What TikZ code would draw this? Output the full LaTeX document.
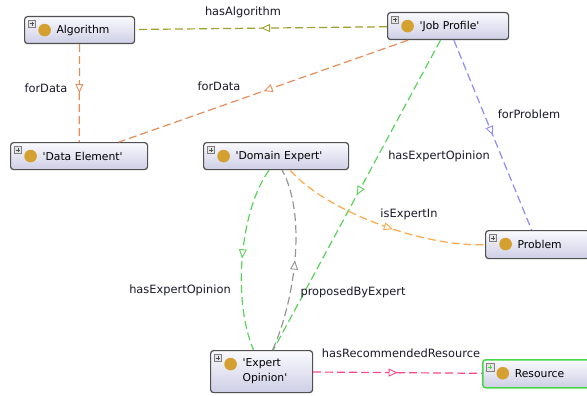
\documentclass[tikz,border=0pt]{standalone}
\usepackage{fontspec}
\setmainfont{DejaVu Sans}[Ligatures=TeXOff]
\usetikzlibrary{arrows.meta,decorations.markings}

% class boxes
\definecolor{boxtop}{RGB}{250,250,254}
\definecolor{boxbot}{RGB}{206,206,230}
\definecolor{boxline}{RGB}{80,80,80}
\definecolor{dotgold}{RGB}{212,160,48}
\definecolor{selgreen}{RGB}{70,215,70}
% one colour per property
\definecolor{algocol}{RGB}{160,160,45}
\definecolor{datacol}{RGB}{232,140,90}
\definecolor{probcol}{RGB}{140,140,250}
\definecolor{opincol}{RGB}{90,210,90}
\definecolor{expcol}{RGB}{255,168,70}
\definecolor{propcol}{RGB}{150,150,150}
\definecolor{rescol}{RGB}{250,70,140}
\definecolor{labcol}{RGB}{25,25,40}

\newcommand{\gap}{\hspace*{32pt}}

\tikzset{
  cls/.style={draw=boxline, line width=1.2pt, rounded corners=3pt,
    top color=boxtop, bottom color=boxbot, anchor=north west,
    inner xsep=0pt, inner ysep=0pt, minimum height=27pt,
    text width=#1, align=left, font=\fontsize{10.8}{15}\selectfont,
    path picture={
      \coordinate (nw) at (path picture bounding box.north west);
      \draw[line width=.5pt, draw=gray, fill=gray!20, sharp corners]
        ([shift={(3.5pt,-3.5pt)}]nw) rectangle ([shift={(11pt,-11pt)}]nw);
      \draw[line width=.7pt, sharp corners]
        ([shift={(5pt,-7.25pt)}]nw) -- ([shift={(9.5pt,-7.25pt)}]nw)
        ([shift={(7.25pt,-5pt)}]nw) -- ([shift={(7.25pt,-9.5pt)}]nw);
      \fill[dotgold] ([shift={(20pt,-13.5pt)}]nw) circle (6.3pt);
    }},
  rel/.style={draw=#1, line width=1.2pt, dash pattern=on 8pt off 4pt,
    postaction={decorate},
    decoration={markings, mark=at position \tippos with
      {\arrow{Triangle[open, fill=white, length=9pt, width=8pt, line width=.9pt]}}}},
  tip at/.code={\def\tippos{#1}},
  tip at=0.5,
  lbl/.style={font=\fontsize{11.4}{13}\selectfont, text=labcol, inner sep=0pt},
}

\begin{document}
\begin{tikzpicture}[x=1pt, y=-1pt]
  \useasboundingbox (0,0) rectangle (587,396);
  \clip (0,0) rectangle (587,396);

  % classes
  \node[cls=110pt] (alg) at (24,16) {\gap Algorithm};
  \node[cls=121pt] (jp) at (387,12) {\gap 'Job Profile'};
  \node[cls=137pt] (de) at (10,142) {\gap 'Data Element'};
  \node[cls=145pt] (dx) at (203,142) {\gap 'Domain Expert'};
  \node[cls=104pt, minimum height=28pt] (pb) at (485,230) {\gap Problem};
  \node[cls=102pt, minimum height=42pt] (eo) at (210,350) {\gap 'Expert\\\gap Opinion'};
  \node[cls=108pt, minimum height=28pt, draw=selgreen, line width=1.5pt] (rs) at (482,359) {\gap Resource};

  % properties
  \draw[rel=algocol] (jp) -- (alg);
  \draw[rel=datacol] (alg) -- (de);
  \draw[rel=datacol] (jp) -- (de);
  \draw[rel=probcol] (jp) -- (pb);
  \draw[rel=opincol] (jp) -- (eo);
  \draw[tip at=0.56, rel=expcol] ([xshift=14pt]dx.south) .. controls (325,210) and (420,247) .. (pb.west);
  \draw[rel=opincol] ([xshift=-7pt]dx.south) .. controls (240,210) and (232,300) .. ([xshift=-8pt]eo.north);
  \draw[rel=propcol] ([xshift=11pt]eo.north) .. controls (295,300) and (307,215) .. ([xshift=6pt]dx.south);
  \draw[rel=rescol] (eo) -- (rs);

  % property names
  \node[lbl] (l1) at (243,12) {hasAlgorithm};
  \node[lbl] (l2) at (46,88) {forData};
  \node[lbl] (l3) at (219,86) {forData};
  \node[lbl] (l4) at (529,114) {forProblem};
  \node[lbl] (l5) at (439,156) {hasExpertOpinion};
  \node[lbl] (l6) at (409,214) {isExpertIn};
  \node[lbl] (l7) at (180,290) {hasExpertOpinion};
  \node[lbl] (l8) at (353,292) {proposedByExpert};
  \node[lbl] (l9) at (401,353) {hasRecommendedResource};
\end{tikzpicture}
\end{document}
